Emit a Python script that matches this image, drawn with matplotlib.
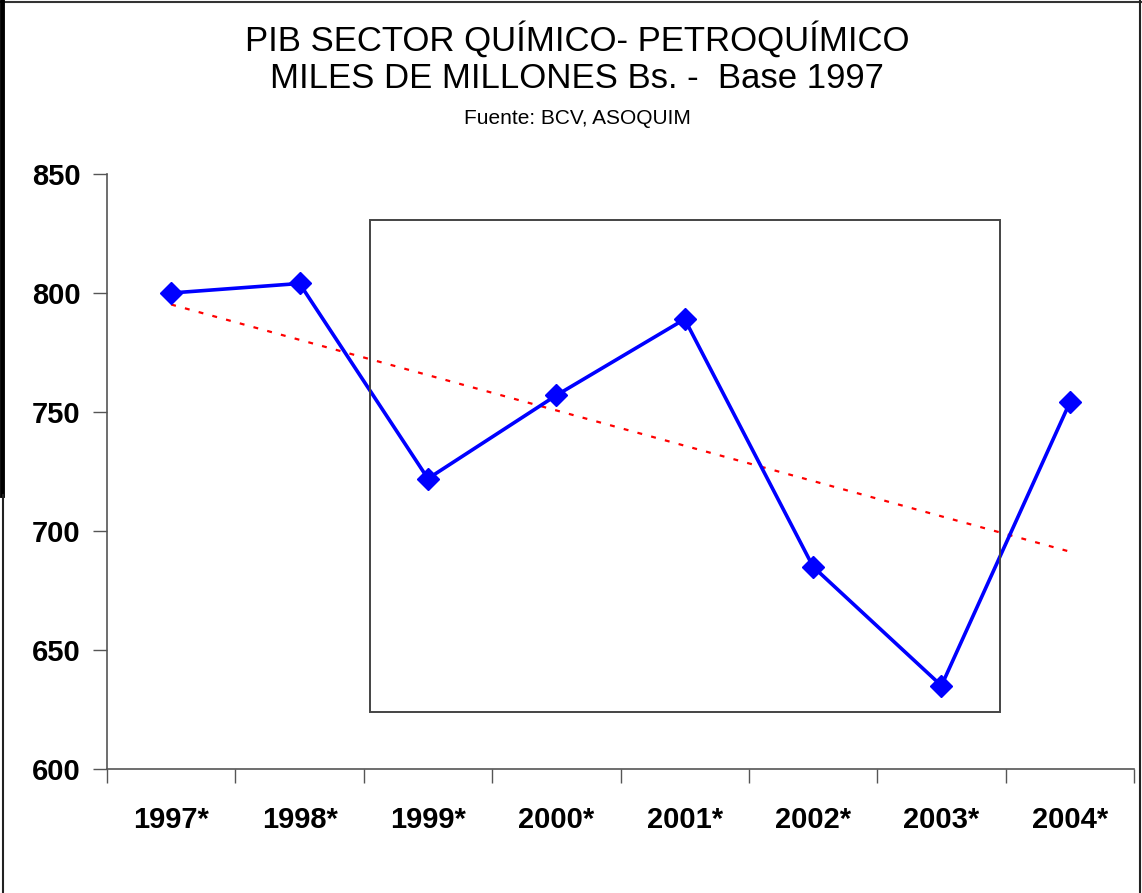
import numpy as np
import matplotlib
matplotlib.use("Agg")
import matplotlib.pyplot as plt
from matplotlib.patches import Rectangle
from matplotlib.lines import Line2D

years = ["1997*", "1998*", "1999*", "2000*", "2001*", "2002*", "2003*", "2004*"]
pib = [800, 804, 722, 757, 789, 685, 635, 754]
yticks = [600, 650, 700, 750, 800, 850]

plt.rcParams['font.family'] = ['Liberation Sans', 'DejaVu Sans']

fig = plt.figure(figsize=(11.42, 8.93), dpi=100)
ax = fig.add_axes([107/1142, 1-769/893, (1134-107)/1142, (769-174)/893])

x = np.arange(len(years))
ax.plot(x, pib, color='#0000FF', lw=2.6, marker='D', markersize=11,
        markerfacecolor='#0000FF', markeredgecolor='#0000FF', zorder=3)

coef = np.polyfit(x, pib, 1)
trend = np.polyval(coef, x)
ax.plot(x, trend, color='#FF0000', lw=1.6, linestyle=(0, (2.2, 4.2)), zorder=2)

ax.set_xlim(-0.5, len(years) - 0.5)
ax.set_ylim(600, 850)
ax.set_yticks(yticks)
ax.set_yticklabels([str(v) for v in yticks], fontsize=21, fontweight='bold')
ax.set_xticks(x)
ax.set_xticklabels(years, fontsize=21, fontweight='bold')
ax.set_xticks(np.arange(len(years) + 1) - 0.5, minor=True)
ax.tick_params(axis='x', which='major', length=0, pad=27)
ax.tick_params(axis='x', which='minor', length=10, width=1, color='#555555', direction='out')
ax.tick_params(axis='y', which='major', length=10, width=1, color='#555555', direction='out', pad=9)
for s in ['top', 'right']:
    ax.spines[s].set_visible(False)
for s in ['left', 'bottom']:
    ax.spines[s].set_color('#555555')
    ax.spines[s].set_linewidth(1.2)

# box annotation
fig.patches.append(Rectangle((370/1142, 1-712/893), (1000-370)/1142, (712-220)/893,
                             transform=fig.transFigure, fill=False,
                             edgecolor='#444444', lw=1.4, zorder=1))

# titles
fig.text(577/1142, 1-39/893, "PIB SECTOR QUÍMICO- PETROQUÍMICO", ha='center', va='center', fontsize=25)
fig.text(577/1142, 1-79/893, "MILES DE MILLONES Bs. -  Base 1997", ha='center', va='center', fontsize=25)
fig.text(577/1142, 1-119/893, "Fuente: BCV, ASOQUIM", ha='center', va='center', fontsize=15)

# figure border
fig.lines.append(Line2D([0, 1], [1-1.5/893, 1-1.5/893], transform=fig.transFigure, color='#333333', lw=1.5))
fig.lines.append(Line2D([2/1142, 2/1142], [1, 1-495/893], transform=fig.transFigure, color='black', lw=3.5))
fig.lines.append(Line2D([3/1142, 3/1142], [1-495/893, 0], transform=fig.transFigure, color='#222222', lw=1.5))
fig.lines.append(Line2D([1140/1142, 1140/1142], [1, 0], transform=fig.transFigure, color='#222222', lw=1.5))

fig.savefig("out.png", dpi=100)
